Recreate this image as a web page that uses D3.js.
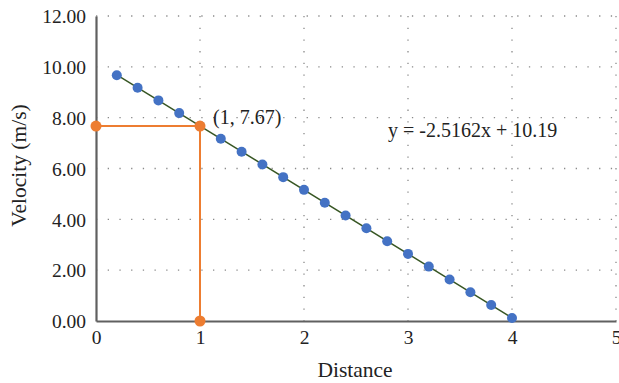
<!DOCTYPE html>
<html>
<head>
<meta charset="utf-8">
<script src="https://cdn.jsdelivr.net/npm/d3@7"></script>
<style>
  body { margin: 0; background: #fff; }
  svg { display: block; font-family: "Liberation Serif", "DejaVu Serif", serif; }
</style>
</head>
<body>
<svg id="chart"></svg>
<script>
// data
const distance = [0.2, 0.4, 0.6, 0.8, 1.0, 1.2, 1.4, 1.6, 1.8, 2.0, 2.2, 2.4, 2.6, 2.8, 3.0, 3.2, 3.4, 3.6, 3.8, 4.0];
const velocity = [9.67, 9.18, 8.68, 8.18, 7.67, 7.17, 6.66, 6.16, 5.66, 5.16, 4.65, 4.15, 3.65, 3.14, 2.64, 2.14, 1.63, 1.13, 0.63, 0.12];
const trendSlope = -2.5162;
const trendIntercept = 10.19;
const markerX = [0, 1, 1];
const markerY = [7.67, 7.67, 0];
const xTicks = [0, 1, 2, 3, 4, 5];
const yTicks = [0, 2, 4, 6, 8, 10, 12];
const pointLabel = '(1, 7.67)';
const equationLabel = 'y = -2.5162x + 10.19';

const width = 619, height = 383;
const margin = { top: 16, right: 3, bottom: 62, left: 96 };
const innerW = width - margin.left - margin.right;
const innerH = height - margin.top - margin.bottom;

const svg = d3.select('#chart').attr('width', width).attr('height', height);
const g = svg.append('g').attr('transform', `translate(${margin.left},${margin.top})`);

const x = d3.scaleLinear().domain([0, 5]).range([0, innerW]);
const y = d3.scaleLinear().domain([0, 12]).range([innerH, 0]);

// dotted grid
g.append('g').selectAll('line').data(yTicks.filter(d => d > 0)).enter().append('line')
  .attr('x1', 0).attr('x2', innerW)
  .attr('y1', d => y(d)).attr('y2', d => y(d))
  .attr('stroke', '#8a8a8a').attr('stroke-width', 1.3).attr('stroke-dasharray', '1.3 10.4');
g.append('g').selectAll('line').data(xTicks.filter(d => d > 0)).enter().append('line')
  .attr('x1', d => x(d)).attr('x2', d => x(d))
  .attr('y1', 0).attr('y2', innerH)
  .attr('stroke', '#8a8a8a').attr('stroke-width', 1.3).attr('stroke-dasharray', '1.3 10.4');

// axes
const xAxis = d3.axisBottom(x).tickValues(xTicks).tickFormat(d3.format('d')).tickSize(0).tickPadding(9);
const yAxis = d3.axisLeft(y).tickValues(yTicks).tickFormat(d3.format('.2f')).tickSize(0).tickPadding(10);
const gx = g.append('g').attr('transform', `translate(0,${innerH})`).call(xAxis);
const gy = g.append('g').call(yAxis);
[gx, gy].forEach(a => {
  a.select('.domain').attr('stroke', '#606060').attr('stroke-width', 2.2);
  a.selectAll('text').attr('font-size', 19.5).attr('fill', '#222')
    .attr('font-family', '"Liberation Serif", serif');
});
gy.selectAll('text').attr('dy', '0.35em');

// orange reference lines
const orangeLine = d3.line().x((d, i) => x(markerX[i])).y((d, i) => y(markerY[i]));
g.append('path').datum(markerX).attr('d', orangeLine)
  .attr('fill', 'none').attr('stroke', '#ed7d31').attr('stroke-width', 2);

// trend line
const x0 = distance[0], x1 = distance[distance.length - 1];
g.append('line')
  .attr('x1', x(x0)).attr('y1', y(trendSlope * x0 + trendIntercept))
  .attr('x2', x(x1)).attr('y2', y(trendSlope * x1 + trendIntercept))
  .attr('stroke', '#375623').attr('stroke-width', 1.5);

// data points
g.append('g').selectAll('circle').data(distance).enter().append('circle')
  .attr('cx', d => x(d)).attr('cy', (d, i) => y(velocity[i])).attr('r', 5)
  .attr('fill', '#4472c4');

// orange markers
g.append('g').selectAll('circle').data(markerX).enter().append('circle')
  .attr('cx', d => x(d)).attr('cy', (d, i) => y(markerY[i])).attr('r', 5.5)
  .attr('fill', '#ed7d31');

// annotations
g.append('text').attr('x', x(1) + 13).attr('y', y(7.67) - 2)
  .attr('font-size', 20).attr('fill', '#222').text(pointLabel);
g.append('text').attr('x', 292).attr('y', 121)
  .attr('font-size', 20).attr('fill', '#222').text(equationLabel);

// axis titles
svg.append('text').attr('x', margin.left + innerW / 2 - 1).attr('y', 377)
  .attr('text-anchor', 'middle').attr('font-size', 21.5).attr('fill', '#222').text('Distance');
svg.append('text').attr('transform', `translate(26,${margin.top + innerH / 2 - 3}) rotate(-90)`)
  .attr('text-anchor', 'middle').attr('font-size', 21.5).attr('fill', '#222').text('Velocity (m/s)');
</script>
</body>
</html>
